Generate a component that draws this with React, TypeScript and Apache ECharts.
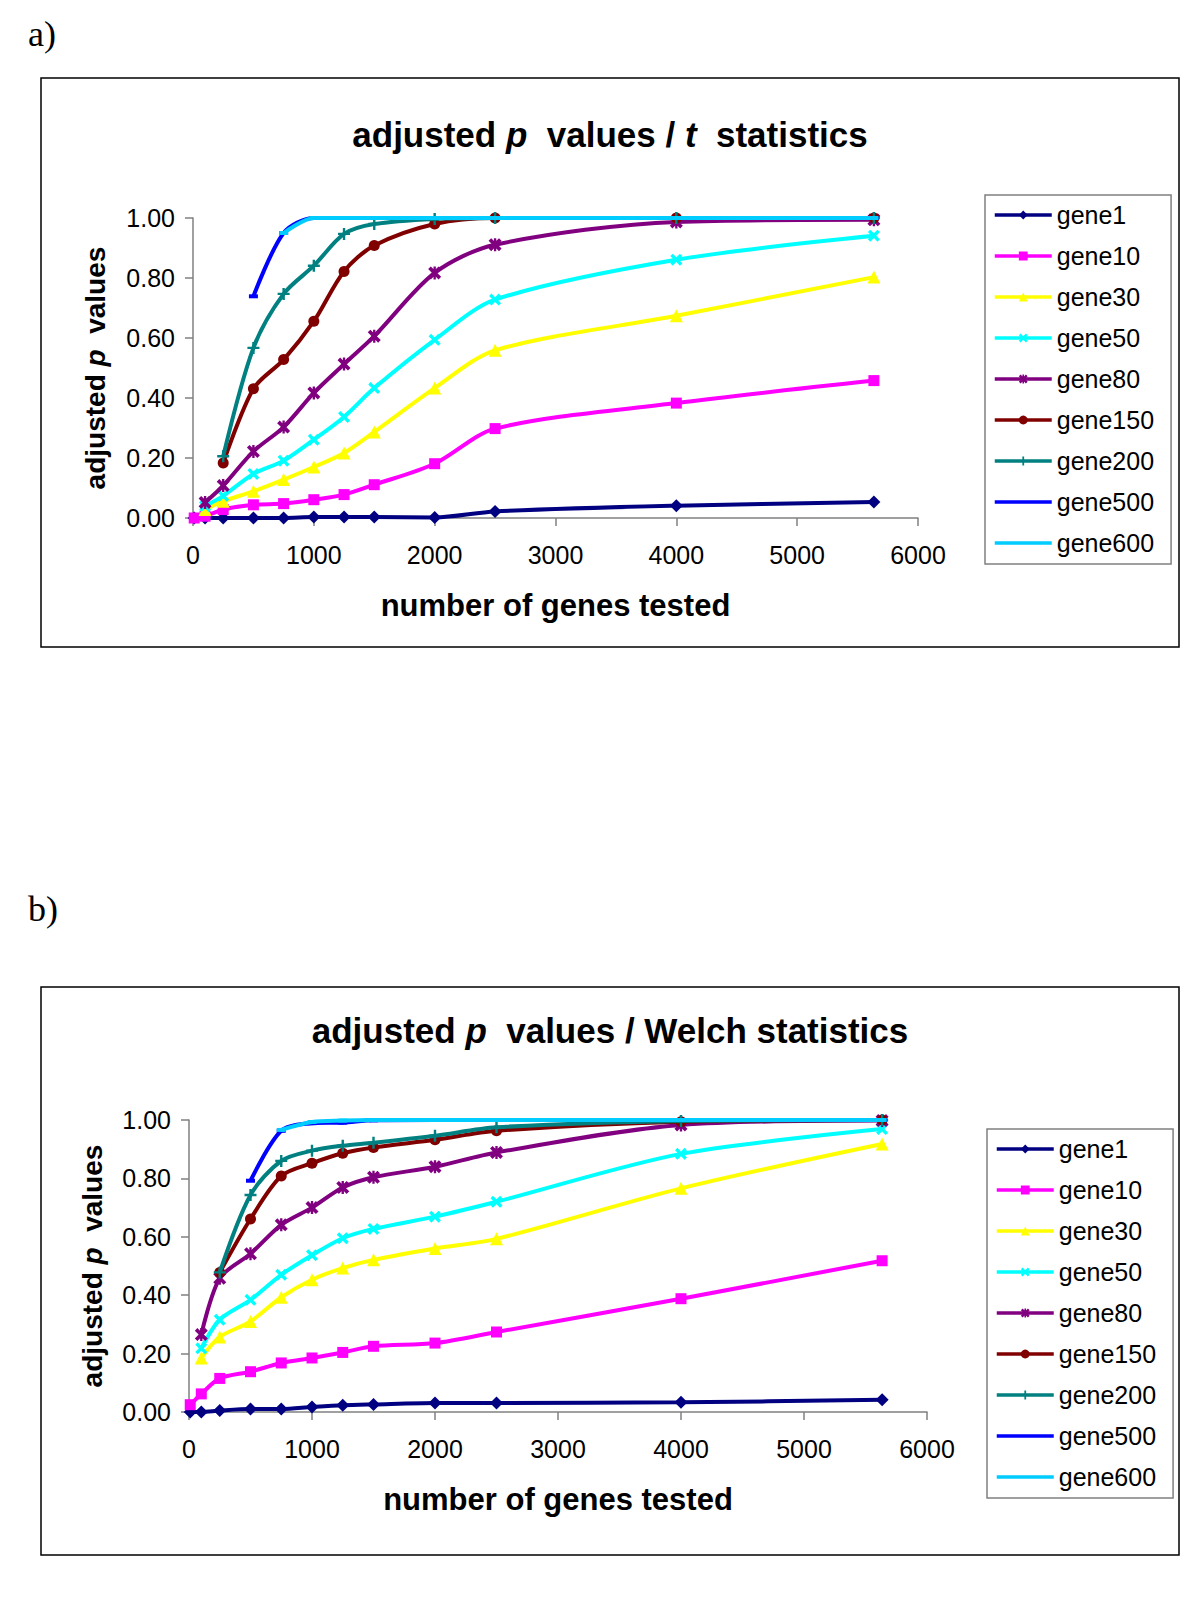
import React, { useEffect, useRef } from "react";
import * as echarts from "echarts";

// ---------- data ----------
const xValues = [10, 100, 250, 500, 750, 1000, 1250, 1500, 2000, 2500, 4000, 5635];
const geneNames = ["gene1", "gene10", "gene30", "gene50", "gene80", "gene150", "gene200", "gene500", "gene600"];

// panel a: adjusted p values / t statistics
const tGene1 = [0, 0, 0, 0, 0, 0.003, 0.003, 0.003, 0.002, 0.022, 0.041, 0.053];
const tGene10 = [0, 0.006, 0.028, 0.044, 0.048, 0.061, 0.078, 0.111, 0.181, 0.298, 0.383, 0.458];
const tGene30 = [null, 0.028, 0.056, 0.089, 0.128, 0.17, 0.217, 0.287, 0.433, 0.559, 0.674, 0.803];
const tGene50 = [null, 0.04, 0.074, 0.147, 0.191, 0.261, 0.337, 0.433, 0.594, 0.728, 0.861, 0.941];
const tGene80 = [null, 0.052, 0.108, 0.222, 0.303, 0.417, 0.513, 0.606, 0.817, 0.911, 0.987, 0.994];
const tGene150 = [null, null, 0.183, 0.431, 0.528, 0.656, 0.822, 0.908, 0.98, 1.0, 1.0, 1.0];
const tGene200 = [null, null, 0.206, 0.567, 0.747, 0.841, 0.947, 0.98, 0.997, 1.0, 1.0, 1.0];
const tGene500 = [null, null, null, 0.739, 0.95, 1.0, 1.0, 1.0, 1.0, 1.0, 1.0, 1.0];
const tGene600 = [null, null, null, null, 0.95, 1.0, 1.0, 1.0, 1.0, 1.0, 1.0, 1.0];

// panel b: adjusted p values / Welch statistics
const wGene1 = [0, 0, 0.005, 0.01, 0.01, 0.017, 0.023, 0.026, 0.031, 0.031, 0.033, 0.042];
const wGene10 = [0.025, 0.062, 0.115, 0.138, 0.168, 0.185, 0.204, 0.225, 0.236, 0.274, 0.388, 0.518];
const wGene30 = [null, 0.185, 0.257, 0.31, 0.393, 0.453, 0.493, 0.521, 0.56, 0.593, 0.766, 0.918];
const wGene50 = [null, 0.218, 0.316, 0.384, 0.47, 0.537, 0.595, 0.627, 0.669, 0.72, 0.884, 0.969];
const wGene80 = [null, 0.265, 0.458, 0.542, 0.641, 0.7, 0.769, 0.804, 0.84, 0.889, 0.983, 0.998];
const wGene150 = [null, null, 0.478, 0.661, 0.808, 0.852, 0.886, 0.906, 0.932, 0.963, 0.994, 1.0];
const wGene200 = [null, null, 0.478, 0.743, 0.86, 0.895, 0.912, 0.922, 0.946, 0.975, 0.997, 1.0];
const wGene500 = [null, null, null, 0.792, 0.963, 0.989, 0.991, 0.999, 1.0, 1.0, 1.0, 1.0];
const wGene600 = [null, null, null, null, 0.966, 0.993, 0.998, 1.0, 1.0, 1.0, 1.0, 1.0];

const tSeries = [tGene1, tGene10, tGene30, tGene50, tGene80, tGene150, tGene200, tGene500, tGene600];
const wSeries = [wGene1, wGene10, wGene30, wGene50, wGene80, wGene150, wGene200, wGene500, wGene600];

// ---------- styles ----------
const SANS = '"Liberation Sans", Arial, sans-serif';
const SERIF = '"Liberation Serif", "Times New Roman", serif';
const colors = ["#000080", "#FF00FF", "#FFFF00", "#00FFFF", "#800080", "#800000", "#008080", "#0000FF", "#00CCFF"];
const X_PATH = "path://M0,2 L2,0 L5,3 L8,0 L10,2 L7,5 L10,8 L8,10 L5,7 L2,10 L0,8 L3,5 Z";
const STAR_PATH =
  "path://M0,2 L2,0 L5,3 L8,0 L10,2 L7,5 L10,8 L8,10 L5,7 L2,10 L0,8 L3,5 Z M4.1,0 L5.9,0 L5.9,10 L4.1,10 Z";
const PLUS_PATH = "path://M4,0 L6,0 L6,4 L10,4 L10,6 L6,6 L6,10 L4,10 L4,6 L0,6 L0,4 L4,4 Z";
const LINE_ICON = "path://M0,0 L0.01,0 L0.01,0.01 Z M0,3.2 L57,3.2 L57,6.8 L0,6.8 Z M0,10 L0.01,10 L0.01,9.99 Z";
const markers: any[] = [
  ["diamond", 13],
  ["rect", 11],
  ["triangle", 13],
  [X_PATH, 12],
  [STAR_PATH, 13],
  ["circle", 11],
  [PLUS_PATH, 12],
  ["rect", [9, 4]],
  ["rect", [9, 4]],
];

function buildSeries(values: (number | null)[][], gridIndex: number) {
  return values.map((arr, k) => ({
    type: "line",
    name: geneNames[k],
    xAxisIndex: gridIndex,
    yAxisIndex: gridIndex,
    data: xValues.map((x, i) => [x, arr[i]]).filter((p) => p[1] !== null),
    smooth: 0.3,
    clip: false,
    symbol: markers[k][0],
    symbolSize: markers[k][1],
    showSymbol: true,
    lineStyle: { color: colors[k], width: 4 },
    itemStyle: { color: colors[k], borderWidth: 0 },
    z: 2 + k,
  }));
}

const richTitle = (size: number) => ({
  b: { fontFamily: SANS, fontWeight: "bold", fontSize: size, color: "#000" },
  i: { fontFamily: SANS, fontWeight: "bold", fontStyle: "italic", fontSize: size, color: "#000" },
});

const grids = [
  { left: 193, top: 218, width: 725, height: 300 },
  { left: 189, top: 1120, width: 738, height: 292 },
];

const legendData = geneNames.map((n, k) => (k >= 7 ? { name: n, icon: LINE_ICON } : { name: n }));

export default function App() {
  const ref = useRef<HTMLDivElement>(null);
  useEffect(() => {
    if (!ref.current) return;
    const chart = echarts.init(ref.current, undefined, { renderer: "svg" });
    const axisColor = "#808080";
    const option: any = {
      animation: false,
      backgroundColor: "#fff",
      graphic: [
        { type: "rect", z: 0, shape: { x: 41, y: 78, width: 1138, height: 569 }, style: { fill: "#fff", stroke: "#000", lineWidth: 1.5 } },
        { type: "rect", z: 0, shape: { x: 41, y: 987, width: 1138, height: 568 }, style: { fill: "#fff", stroke: "#000", lineWidth: 1.5 } },
        { type: "text", x: 28, y: 34, style: { text: "a)", font: `36px ${SERIF}`, fill: "#000", verticalAlign: "middle" } },
        { type: "text", x: 28, y: 909, style: { text: "b)", font: `36px ${SERIF}`, fill: "#000", verticalAlign: "middle" } },
        {
          type: "text",
          x: 610,
          y: 134,
          style: {
            text: "{b|adjusted }{i|p}{b|  values / }{i|t}{b|  statistics}",
            rich: richTitle(35),
            align: "center",
            verticalAlign: "middle",
          },
        },
        {
          type: "text",
          x: 610,
          y: 1030,
          style: {
            text: "{b|adjusted }{i|p}{b|  values / Welch statistics}",
            rich: richTitle(35),
            align: "center",
            verticalAlign: "middle",
          },
        },
      ],
      grid: grids,
      xAxis: [0, 1].map((i) => ({
        type: "value",
        gridIndex: i,
        min: 0,
        max: 6000,
        interval: 1000,
        axisLine: { show: true, onZero: false, lineStyle: { color: axisColor, width: 1.5 } },
        axisTick: { show: true, inside: false, length: 8, lineStyle: { color: axisColor, width: 1.5 } },
        splitLine: { show: false },
        axisLabel: {
          fontSize: 25,
          color: "#000",
          fontFamily: SANS,
          margin: 24,
          formatter: (v: number) => String(Math.round(v)),
        },
        name: "number of genes tested",
        nameLocation: "middle",
        nameGap: 72,
        nameTextStyle: { fontSize: 31, fontWeight: "bold", color: "#000", fontFamily: SANS, verticalAlign: "top" },
      })),
      yAxis: [0, 1].map((i) => ({
        type: "value",
        gridIndex: i,
        min: 0,
        max: 1,
        interval: 0.2,
        axisLine: { show: true, lineStyle: { color: axisColor, width: 1.5 } },
        axisTick: { show: true, inside: false, length: 8, lineStyle: { color: axisColor, width: 1.5 } },
        splitLine: { show: false },
        axisLabel: {
          fontSize: 25,
          color: "#000",
          fontFamily: SANS,
          margin: 18,
          formatter: (v: number) => v.toFixed(2),
        },
        name: "{b|adjusted }{i|p}{b|  values}",
        nameLocation: "middle",
        nameGap: i === 0 ? 84 : 83,
        nameTextStyle: { fontSize: 28, color: "#000", fontFamily: SANS, rich: richTitle(28) },
      })),
      legend: [
        { left: 985, top: 195 },
        { left: 987, top: 1129 },
      ].map((pos) => ({
        ...pos,
        data: legendData,
        orient: "vertical",
        itemWidth: 57,
        itemHeight: 11,
        itemGap: 15,
        padding: [7, 17, 8, 8],
        borderColor: axisColor,
        borderWidth: 1.5,
        backgroundColor: "#fff",
        selectedMode: false,
        lineStyle: { width: 3.5 },
        textStyle: { fontSize: 25, fontFamily: SANS, color: "#000", lineHeight: 26 },
      })),
      series: [...buildSeries(tSeries, 0), ...buildSeries(wSeries, 1)],
    };
    chart.setOption(option);
    return () => chart.dispose();
  }, []);
  return (
    <div
      ref={ref}
      style={{ position: "absolute", left: 0, top: 0, width: 1196, height: 1615, background: "#fff" }}
    />
  );
}
